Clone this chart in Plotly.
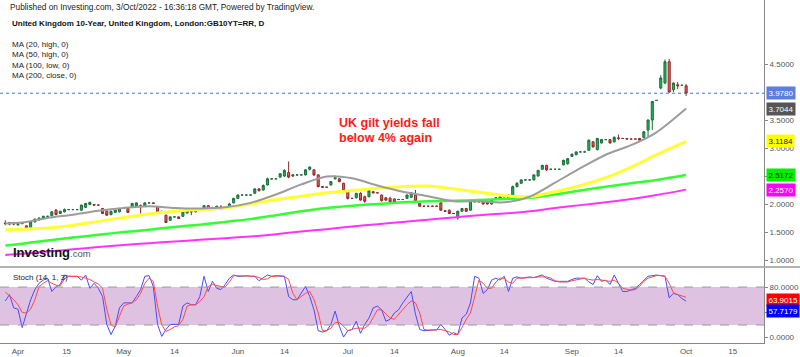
import pandas as pd
import plotly.graph_objects as go

# ---------------- data ----------------
# trading calendar of the feed: Sun..Fri bars (no Saturday), 29 Mar 2022 -> 3 Oct 2022
all_days = pd.date_range("2022-03-29", "2022-10-03", freq="D")
dates = [d for d in all_days if d.dayofweek != 5]

opens = [
    1.66, 1.64, 1.67, 1.63,
    1.65, 1.61, 1.58, 1.68, 1.72, 1.75,
    1.78, 1.79, 1.89, 1.83, 1.86, 1.90,
    1.90, 1.90, 1.89, 1.94, 1.99, 1.99,
    1.98, 1.92, 1.87, 1.81, 1.85, 1.86,
    1.92, 1.92, 1.95, 1.96, 1.97, 1.96,
    2.02, 2.02, 1.95, 1.87, 1.80, 1.71,
    1.77, 1.77, 1.78, 1.84, 1.87, 1.86,
    1.90, 1.91, 1.97, 1.90, 1.91, 1.95,
    1.94, 1.96, 2.02, 2.10, 2.16, 2.16,
    2.16, 2.19, 2.27, 2.25, 2.34, 2.45,
    2.45, 2.48, 2.50, 2.56, 2.50, 2.52,
    2.52, 2.52, 2.62, 2.61, 2.52, 2.31,
    2.30, 2.34, 2.45, 2.45, 2.37, 2.22,
    2.10, 2.11, 2.19, 2.13, 2.13, 2.22,
    2.20, 2.16, 2.11, 2.10, 2.09, 2.08,
    2.08, 2.10, 2.12, 2.16, 2.01, 1.96,
    1.96, 1.96, 1.96, 2.02, 1.88, 1.89,
    1.83, 1.75, 1.87, 1.92, 1.89, 2.05,
    2.04, 2.04, 2.03, 2.00, 2.11, 2.08,
    2.13, 2.08, 2.14, 2.31, 2.37, 2.43,
    2.43, 2.43, 2.50, 2.62, 2.69, 2.62,
    2.62, 2.62, 2.70, 2.72, 2.85, 2.88,
    2.93, 2.93, 2.96, 3.11, 2.97, 3.09,
    3.15, 3.15, 3.11, 3.18, 3.17, 3.17,
    3.16, 3.16, 3.17, 3.19, 3.32, 3.50,
    3.85, 4.07, 4.16, 4.54, 4.04, 4.13,
    4.12, 4.11,
]
highs = [
    1.71, 1.68, 1.68, 1.67,
    1.65, 1.62, 1.69, 1.74, 1.76, 1.79,
    1.78, 1.87, 1.91, 1.88, 1.92, 1.90,
    1.90, 1.90, 1.99, 2.02, 2.04, 2.00,
    1.98, 1.93, 1.88, 1.88, 1.90, 1.93,
    1.92, 1.93, 2.02, 2.03, 1.99, 2.03,
    2.02, 2.03, 1.96, 1.88, 1.81, 1.78,
    1.77, 1.78, 1.87, 1.90, 1.90, 1.91,
    1.90, 1.98, 1.98, 1.95, 1.97, 1.98,
    1.94, 2.02, 2.11, 2.17, 2.16, 2.16,
    2.16, 2.28, 2.28, 2.35, 2.47, 2.46,
    2.45, 2.55, 2.62, 2.76, 2.53, 2.53,
    2.52, 2.62, 2.67, 2.62, 2.53, 2.32,
    2.30, 2.41, 2.51, 2.46, 2.38, 2.23,
    2.10, 2.20, 2.21, 2.15, 2.26, 2.23,
    2.20, 2.17, 2.12, 2.13, 2.10, 2.09,
    2.08, 2.17, 2.21, 2.25, 2.02, 1.97,
    1.96, 1.97, 1.97, 2.04, 1.89, 1.90,
    1.83, 1.88, 1.93, 1.93, 2.08, 2.06,
    2.04, 2.05, 2.04, 2.09, 2.12, 2.14,
    2.13, 2.17, 2.33, 2.39, 2.44, 2.44,
    2.43, 2.53, 2.61, 2.70, 2.70, 2.63,
    2.62, 2.62, 2.79, 2.82, 2.90, 2.94,
    2.93, 2.95, 3.15, 3.12, 3.18, 3.16,
    3.15, 3.16, 3.21, 3.24, 3.18, 3.18,
    3.16, 3.16, 3.18, 3.30, 3.51, 3.84,
    3.85, 4.30, 4.58, 4.59, 4.17, 4.18,
    4.12, 4.14,
]
lows = [
    1.62, 1.62, 1.62, 1.61,
    1.65, 1.56, 1.57, 1.67, 1.70, 1.73,
    1.78, 1.78, 1.80, 1.82, 1.85, 1.90,
    1.90, 1.90, 1.88, 1.93, 1.98, 1.97,
    1.98, 1.82, 1.79, 1.80, 1.84, 1.85,
    1.92, 1.84, 1.94, 1.95, 1.83, 1.95,
    2.02, 2.00, 1.85, 1.85, 1.66, 1.70,
    1.77, 1.73, 1.77, 1.83, 1.80, 1.85,
    1.90, 1.90, 1.89, 1.89, 1.90, 1.89,
    1.94, 1.95, 2.01, 2.09, 2.16, 2.16,
    2.16, 2.18, 2.22, 2.24, 2.33, 2.44,
    2.45, 2.47, 2.48, 2.46, 2.48, 2.51,
    2.52, 2.51, 2.60, 2.50, 2.30, 2.29,
    2.30, 2.33, 2.44, 2.39, 2.23, 2.08,
    2.10, 2.10, 2.06, 2.02, 2.12, 2.19,
    2.20, 2.04, 2.05, 2.03, 2.02, 2.07,
    2.08, 2.09, 2.11, 2.03, 1.95, 1.95,
    1.96, 1.95, 1.95, 1.88, 1.86, 1.82,
    1.83, 1.72, 1.86, 1.86, 1.88, 2.03,
    2.04, 1.99, 1.99, 1.99, 2.10, 2.07,
    2.13, 2.07, 2.13, 2.30, 2.36, 2.42,
    2.43, 2.42, 2.49, 2.61, 2.59, 2.61,
    2.62, 2.62, 2.69, 2.70, 2.84, 2.87,
    2.93, 2.92, 2.95, 3.01, 2.96, 3.08,
    3.15, 3.08, 3.10, 3.14, 3.16, 3.15,
    3.16, 3.16, 3.13, 3.18, 3.20, 3.32,
    3.85, 4.05, 4.14, 3.99, 4.00, 4.05,
    4.12, 3.93,
]
closes = [
    1.65, 1.67, 1.64, 1.65,
    1.65, 1.57, 1.68, 1.73, 1.75, 1.78,
    1.78, 1.86, 1.81, 1.87, 1.90, 1.90,
    1.90, 1.90, 1.98, 2.01, 2.03, 1.98,
    1.98, 1.83, 1.80, 1.87, 1.89, 1.92,
    1.92, 1.85, 2.01, 2.02, 1.97, 2.02,
    2.02, 2.01, 1.86, 1.86, 1.67, 1.77,
    1.77, 1.74, 1.86, 1.89, 1.86, 1.90,
    1.90, 1.97, 1.90, 1.93, 1.96, 1.94,
    1.94, 2.00, 2.10, 2.16, 2.16, 2.16,
    2.16, 2.27, 2.24, 2.33, 2.45, 2.45,
    2.45, 2.54, 2.60, 2.48, 2.52, 2.52,
    2.52, 2.61, 2.66, 2.52, 2.31, 2.30,
    2.30, 2.40, 2.47, 2.40, 2.24, 2.10,
    2.10, 2.19, 2.07, 2.05, 2.24, 2.20,
    2.20, 2.06, 2.07, 2.04, 2.03, 2.08,
    2.08, 2.16, 2.20, 2.05, 1.96, 1.96,
    1.96, 1.96, 1.96, 1.89, 1.87, 1.83,
    1.83, 1.87, 1.92, 1.87, 2.06, 2.04,
    2.04, 2.00, 2.00, 2.08, 2.11, 2.13,
    2.13, 2.16, 2.31, 2.37, 2.43, 2.43,
    2.43, 2.52, 2.60, 2.69, 2.61, 2.62,
    2.62, 2.62, 2.78, 2.81, 2.89, 2.93,
    2.93, 2.93, 3.14, 3.02, 3.17, 3.15,
    3.15, 3.09, 3.19, 3.17, 3.17, 3.16,
    3.16, 3.16, 3.14, 3.29, 3.50, 3.83,
    3.85, 4.25, 4.54, 4.00, 4.16, 4.11,
    4.12, 3.978,
]

# moving averages (weekly samples)
ma_dates = ["2022-03-29", "2022-04-03", "2022-04-10", "2022-04-17", "2022-04-24",
            "2022-05-01", "2022-05-08", "2022-05-15", "2022-05-22", "2022-05-29",
            "2022-06-05", "2022-06-12", "2022-06-19", "2022-06-26", "2022-07-03",
            "2022-07-10", "2022-07-17", "2022-07-24", "2022-07-31", "2022-08-07",
            "2022-08-14", "2022-08-21", "2022-08-28", "2022-09-04", "2022-09-11",
            "2022-09-18", "2022-09-25", "2022-10-03"]
ma20_high = [1.65, 1.67, 1.75, 1.81, 1.88, 1.93, 1.96, 1.93, 1.92, 1.94,
             2.02, 2.17, 2.35, 2.49, 2.46, 2.33, 2.22, 2.14, 2.05, 2.05,
             2.03, 2.13, 2.38, 2.64, 2.88, 3.05, 3.28, 3.7044]
ma50_high = [1.54, 1.55, 1.57, 1.62, 1.69, 1.76, 1.82, 1.87, 1.90, 1.93,
             2.00, 2.08, 2.14, 2.20, 2.24, 2.28, 2.31, 2.32, 2.27, 2.21,
             2.15, 2.13, 2.22, 2.33, 2.47, 2.66, 2.88, 3.1184]
ma100_low = [1.26, 1.29, 1.35, 1.40, 1.45, 1.50, 1.54, 1.59, 1.63, 1.68,
             1.73, 1.80, 1.87, 1.93, 1.97, 2.00, 2.03, 2.05, 2.06, 2.07,
             2.09, 2.11, 2.17, 2.24, 2.31, 2.37, 2.43, 2.5172]
ma200_close = [1.09, 1.11, 1.15, 1.19, 1.23, 1.27, 1.30, 1.33, 1.36, 1.39,
               1.42, 1.46, 1.51, 1.55, 1.60, 1.64, 1.68, 1.72, 1.76, 1.80,
               1.83, 1.87, 1.93, 1.98, 2.03, 2.09, 2.16, 2.257]

# Stochastic (14, 1, 3), one value per bar
stoch_k = [
    58, 68, 47, 45,
    16, 39, 60, 76, 86, 91,
    94, 73, 80, 84, 99, 97,
    97, 97, 91, 99, 78, 86,
    78, 65, 21, 5, 18, 47,
    55, 55, 55, 65, 76, 97,
    98, 81, 21, 2, 13, 21,
    21, 21, 50, 55, 52, 52,
    65, 97, 73, 89, 78, 76,
    84, 94, 99, 97, 97, 98,
    97, 97, 90, 94, 99, 97,
    98, 97, 97, 65, 60, 60,
    70, 81, 65, 44, 11, 9,
    11, 21, 42, 18, 1, 11,
    13, 26, 7, 21, 31, 47,
    50, 44, 26, 29, 39, 44,
    55, 64, 73, 37, 13, 11,
    12, 12, 12, 21, 13, 4,
    8, 5, 31, 37, 55, 97,
    94, 70, 76, 91, 94, 91,
    97, 73, 94, 96, 94, 95,
    96, 95, 97, 99, 94, 92,
    89, 89, 89, 89, 92, 94,
    94, 94, 88, 84, 98, 89,
    91, 84, 99, 86, 73, 73,
    75, 78, 84, 91, 97, 98,
    99, 98, 97, 63, 70, 68,
    62, 57.7179,
]
stoch_d = [
    72, 66, 60, 52,
    40, 39, 45, 60, 81, 86,
    90, 86, 83, 82, 93, 97,
    97, 97, 96, 94, 92, 88,
    85, 78, 45, 20, 17, 34,
    50, 53, 55, 60, 70, 86,
    94, 89, 50, 20, 10, 13,
    17, 19, 29, 50, 52, 52,
    57, 65, 81, 84, 82, 81,
    80, 88, 98, 98, 97, 97,
    97, 97, 95, 92, 93, 97,
    97, 98, 97, 92, 70, 60,
    65, 70, 73, 60, 39, 11,
    11, 15, 24, 24, 18, 11,
    13, 15, 15, 15, 20, 31,
    44, 44, 37, 31, 29, 37,
    44, 52, 58, 55, 39, 13,
    12, 12, 12, 13, 11, 9,
    5, 5, 16, 29, 39, 65,
    91, 86, 78, 78, 88, 94,
    94, 88, 86, 94, 94, 95,
    95, 95, 96, 96, 96, 94,
    90, 88, 88, 88, 90, 91,
    93, 94, 92, 91, 92, 91,
    89, 89, 91, 86, 78, 76,
    75, 76, 81, 89, 94, 96,
    98, 98, 97, 86, 71, 68,
    66, 63.9015,
]

price_ticks = [1.0, 1.5, 2.0, 2.5, 3.0, 3.5, 4.5]
stoch_ticks = [0, 40, 80]
date_tickvals = ["2022-04-01", "2022-04-14 12:00", "2022-05-01", "2022-05-15", "2022-06-01",
                 "2022-06-14", "2022-07-01", "2022-07-14", "2022-08-01", "2022-08-14",
                 "2022-09-01", "2022-09-14", "2022-10-03", "2022-10-16"]
date_ticktext = ["Apr", "15", "May", "14", "Jun", "14", "Jul", "14", "Aug", "14",
                 "Sep", "14", "Oct", "15"]

assert len(dates) == len(opens) == len(highs) == len(lows) == len(closes) == len(stoch_k) == len(stoch_d)

# ---------------- figure ----------------
W, H = 800, 357
AX_X = 764 / W
FONT = "Arial, Liberation Sans, sans-serif"


def py(pix):
    return 1 - pix / H


fig = go.Figure()

ma_specs = [
    (ma200_close, "#ff33ff", 2),
    (ma100_low, "#33ff33", 2.5),
    (ma50_high, "#ffff33", 3),
    (ma20_high, "#9c9c9c", 2),
]
for vals, col, wd in ma_specs:
    fig.add_trace(go.Scatter(x=ma_dates, y=vals, mode="lines",
                             line=dict(color=col, width=wd, shape="spline", smoothing=0.8),
                             xaxis="x", yaxis="y", hoverinfo="skip"))

fig.add_trace(go.Candlestick(
    x=dates, open=opens, high=highs, low=lows, close=closes,
    increasing=dict(line=dict(color="#1d6e3a", width=1), fillcolor="#22b35a"),
    decreasing=dict(line=dict(color="#8e2b2b", width=1), fillcolor="#ee5a52"),
    whiskerwidth=0, xaxis="x", yaxis="y", hoverinfo="skip"))

fig.add_trace(go.Scatter(x=dates, y=stoch_k, mode="lines",
                         line=dict(color="#4a4aff", width=1), xaxis="x", yaxis="y2",
                         hoverinfo="skip"))
fig.add_trace(go.Scatter(x=dates, y=stoch_d, mode="lines",
                         line=dict(color="#ff4a4a", width=1), xaxis="x", yaxis="y2",
                         hoverinfo="skip"))

axis_font = dict(family=FONT, size=8, color="#555555")

fig.update_layout(
    width=W, height=H, margin=dict(l=0, r=0, t=0, b=0),
    paper_bgcolor="white", plot_bgcolor="white", showlegend=False,
    font=dict(family=FONT, size=8, color="#333"),
    xaxis=dict(domain=[0, AX_X], type="date", anchor="y2",
               range=["2022-03-27 18:00", "2022-10-24 10:00"],
               rangebreaks=[dict(bounds=["sat", "sun"])],
               tickvals=date_tickvals, ticktext=date_ticktext, tickfont=axis_font,
               showgrid=False, zeroline=False, showline=True, linecolor="#888888",
               linewidth=1, ticks="", rangeslider=dict(visible=False), fixedrange=True),
    yaxis=dict(domain=[py(267), 1.0], range=[0.875, 5.643], side="right", anchor="x",
               tickvals=price_ticks, ticktext=[f"{v:.4f}" for v in price_ticks],
               tickfont=axis_font, ticks="outside", ticklen=3, tickcolor="#888888",
               showgrid=False, zeroline=False, showline=True, linecolor="#888888",
               linewidth=1, fixedrange=True),
    yaxis2=dict(domain=[py(343), py(268)], range=[-8.4, 110.1], side="right", anchor="x",
                tickvals=stoch_ticks, ticktext=[f"{v:.4f}" for v in stoch_ticks],
                tickfont=axis_font, ticks="outside", ticklen=3, tickcolor="#888888",
                showgrid=False, zeroline=False, showline=True, linecolor="#888888",
                linewidth=1, fixedrange=True),
)

shapes = [
    # stochastic band
    dict(type="rect", xref="x domain", yref="y2", x0=0, x1=1, y0=20, y1=80,
         fillcolor="#dfc2e2", line=dict(width=0), layer="below"),
    dict(type="line", xref="x domain", yref="y2", x0=0, x1=1, y0=80, y1=80,
         line=dict(color="#9a9a9a", width=1, dash="dash")),
    dict(type="line", xref="x domain", yref="y2", x0=0, x1=1, y0=20, y1=20,
         line=dict(color="#9a9a9a", width=1, dash="dash")),
    # last price line
    dict(type="line", xref="x domain", yref="y", x0=0, x1=1, y0=3.978, y1=3.978,
         line=dict(color="#4a6fe0", width=1, dash="dot")),
    # pane separator
    dict(type="line", xref="paper", yref="paper", x0=0, x1=1, y0=py(267), y1=py(267),
         line=dict(color="#9a9a9a", width=1.5)),
]
fig.update_layout(shapes=shapes)

ann = []
# header
ann.append(dict(text="Published on Investing.com, 3/Oct/2022 - 16:36:18 GMT, Powered by TradingView.",
                xref="paper", yref="paper", x=8 / W, y=py(7), xanchor="left", yanchor="middle",
                showarrow=False, font=dict(family=FONT, size=8.3, color="#222")))
ann.append(dict(text="<b>United Kingdom 10-Year, United Kingdom, London:GB10YT=RR, D</b>",
                xref="paper", yref="paper", x=10 / W, y=py(24), xanchor="left", yanchor="middle",
                showarrow=False, font=dict(family=FONT, size=8, color="#111")))
for i, t in enumerate(["MA (20, high, 0)", "MA (50, high, 0)", "MA (100, low, 0)", "MA (200, close, 0)"]):
    ann.append(dict(text=t, xref="paper", yref="paper", x=10 / W, y=py(44 + i * 10.5),
                    xanchor="left", yanchor="middle", showarrow=False,
                    font=dict(family=FONT, size=8, color="#222")))
# headline
ann.append(dict(text="<b>UK gilt yields fall</b>", xref="paper", yref="paper", x=337 / W, y=py(123),
                xanchor="left", yanchor="middle", showarrow=False,
                font=dict(family=FONT, size=12.5, color="#ff1a1a")))
ann.append(dict(text="<b>below 4% again</b>", xref="paper", yref="paper", x=337 / W, y=py(138.5),
                xanchor="left", yanchor="middle", showarrow=False,
                font=dict(family=FONT, size=12.5, color="#ff1a1a")))
# watermark
ann.append(dict(text="<b>Investing</b><span style='font-size:9.5px;color:#555'>.com</span>",
                xref="paper", yref="paper", x=11 / W, y=py(252), xanchor="left", yanchor="middle",
                showarrow=False, font=dict(family=FONT, size=13, color="#111")))
# stoch title
ann.append(dict(text="Stoch (14, 1, 3)", xref="paper", yref="paper", x=11 / W, y=py(277),
                xanchor="left", yanchor="middle", showarrow=False,
                font=dict(family=FONT, size=8, color="#222")))

# price-scale value labels
val_labels = [
    ("3.9780", "y", 3.978, "#5a7ee2", "white"),
    ("3.7044", "y", 3.7044, "#555555", "white"),
    ("3.1184", "y", 3.1184, "#ffff00", "#222"),
    ("2.5172", "y", 2.5172, "#00f000", "#222"),
    ("2.2570", "y", 2.257, "#ff00ff", "white"),
]
for txt, yr, yv, bg, fc in val_labels:
    ann.append(dict(text=txt, xref="paper", yref=yr, x=766 / W, y=yv, xanchor="left",
                    yanchor="middle", showarrow=False, bgcolor=bg, borderpad=1.5,
                    font=dict(family=FONT, size=8, color=fc)))
ann.append(dict(text="63.9015", xref="paper", yref="paper", x=766 / W, y=py(300), xanchor="left",
                yanchor="middle", showarrow=False, bgcolor="#ff0000", borderpad=1.5,
                font=dict(family=FONT, size=8, color="white")))
ann.append(dict(text="57.7179", xref="paper", yref="paper", x=766 / W, y=py(311), xanchor="left",
                yanchor="middle", showarrow=False, bgcolor="#0000ff", borderpad=1.5,
                font=dict(family=FONT, size=8, color="white")))

fig.update_layout(annotations=ann)

fig.write_html("out.html", config={"displayModeBar": False, "staticPlot": True})

# remove the browser's default page margin so the figure sits at (0, 0)
with open("out.html", "r", encoding="utf-8") as fh:
    page = fh.read()
page = page.replace("<head>", "<head><style>html,body{margin:0;padding:0;overflow:hidden;}</style>", 1)
with open("out.html", "w", encoding="utf-8") as fh:
    fh.write(page)
